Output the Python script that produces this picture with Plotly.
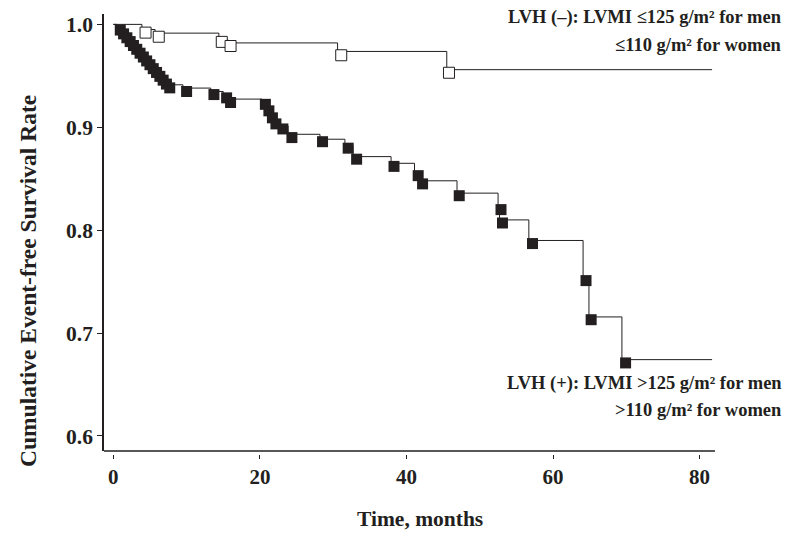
import plotly.graph_objects as go

# ---- data ----
# LVH (+) group: step line (event time, survival after event)
pos_line_t = [0, 0.5, 0.95, 1.4, 1.85, 2.3, 2.75, 3.2, 3.65, 4.1, 4.55, 5.0, 5.45, 5.9, 6.35, 6.8, 7.25,
              9.5, 13.3, 15.0, 15.5, 20.3, 20.8, 21.25, 21.75, 22.7, 23.85,
              28.2, 31.6, 32.7, 37.9, 41.1, 41.8, 46.9, 52.5, 52.7, 56.7, 64.1, 64.9, 69.4, 81.7]
pos_line_s = [1.0, 0.9975, 0.9938, 0.9900, 0.9863, 0.9825, 0.9788, 0.9750, 0.9713, 0.9675, 0.9638, 0.9600,
              0.9563, 0.9525, 0.9488, 0.9450, 0.9413,
              0.9381, 0.9348, 0.9316, 0.9274, 0.9253, 0.9190, 0.9120, 0.9060, 0.9013, 0.8932,
              0.8884, 0.8825, 0.8715, 0.8650, 0.8570, 0.8480, 0.8360, 0.8230, 0.8100, 0.7900,
              0.7540, 0.7157, 0.6742, 0.6742]
# LVH (+) group: square markers
pos_mark_t = [0.95, 1.4, 1.85, 2.3, 2.75, 3.2, 3.65, 4.1, 4.55, 5.0, 5.45, 5.9, 6.35, 6.8, 7.25, 7.7,
              10.0, 13.73, 15.46, 16.0, 20.75, 21.23, 21.71, 22.19, 23.14, 24.37,
              28.55, 32.05, 33.2, 38.3, 41.6, 42.2, 47.2, 52.9, 53.1, 57.2, 64.5, 65.2, 69.9]
pos_mark_s = [0.9945, 0.9908, 0.9870, 0.9833, 0.9795, 0.9758, 0.9720, 0.9683, 0.9645, 0.9608, 0.9570,
              0.9533, 0.9495, 0.9458, 0.9420, 0.9383,
              0.9348, 0.9318, 0.9286, 0.9241, 0.9223, 0.9160, 0.9092, 0.9033, 0.8984, 0.8900,
              0.8860, 0.8797, 0.8690, 0.8620, 0.8530, 0.8450, 0.8335, 0.8200, 0.8070, 0.7870,
              0.7510, 0.7130, 0.6710]

# LVH (-) group
neg_line_t = [0, 3.9, 5.7, 14.4, 15.6, 30.6, 45.5, 81.7]
neg_line_s = [1.0, 0.995, 0.9915, 0.9855, 0.982, 0.9737, 0.956, 0.956]
neg_mark_t = [4.4, 6.2, 14.8, 16.0, 31.1, 45.8]
neg_mark_s = [0.992, 0.988, 0.983, 0.979, 0.970, 0.953]

x_ticks = [0, 20, 40, 60, 80]
y_ticks = [0.6, 0.7, 0.8, 0.9, 1.0]
y_tick_text = ["0.6", "0.7", "0.8", "0.9", "1.0"]

neg_label = ["LVH (\u2013): LVMI \u2264125 g/m\u00b2 for men", "\u2264110 g/m\u00b2 for women"]
pos_label = ["LVH (+): LVMI >125 g/m\u00b2 for men", ">110 g/m\u00b2 for women"]
x_title = "Time, months"
y_title = "Cumulative Event-free Survival Rate"

# ---- figure ----
INK = "#231f20"
FONT = "Liberation Serif"
OFF = 8                      # page body margin of the html page
W, H = 791 - 2 * OFF, 541 - 2 * OFF

fig = go.Figure()
fig.add_trace(go.Scatter(x=pos_line_t, y=pos_line_s, mode="lines", line_shape="hv",
                         line=dict(color=INK, width=1), hoverinfo="skip", showlegend=False))
fig.add_trace(go.Scatter(x=pos_mark_t, y=pos_mark_s, mode="markers",
                         marker=dict(symbol="square", size=11, color=INK, line=dict(width=0)),
                         showlegend=False))
fig.add_trace(go.Scatter(x=neg_line_t, y=neg_line_s, mode="lines", line_shape="hv",
                         line=dict(color=INK, width=1), hoverinfo="skip", showlegend=False))
fig.add_trace(go.Scatter(x=neg_mark_t, y=neg_mark_s, mode="markers",
                         marker=dict(symbol="square", size=11, color="white", line=dict(width=1, color=INK)),
                         showlegend=False))

# plot area in page pixels
left, right = 104, 715
plot_top, plot_bottom = 14, 454
axis_bottom = 451
ydom0 = (plot_bottom - axis_bottom) / (plot_bottom - plot_top)

fig.update_layout(
    width=W, height=H,
    margin=dict(l=left - OFF, r=W - (right - OFF), t=plot_top - OFF, b=H - (plot_bottom - OFF), pad=0),
    paper_bgcolor="white", plot_bgcolor="white",
    font=dict(family=FONT, color=INK, size=20, weight="bold"),
    xaxis=dict(range=[-1.27, 82.1], tickvals=x_ticks, ticks="outside", ticklen=4, tickwidth=1,
               tickcolor=INK, showline=False, showgrid=False, zeroline=False,
               anchor="free", position=0,
               tickfont=dict(family=FONT, size=21, color=INK, weight="bold")),
    yaxis=dict(range=[0.5854, 1.0101], domain=[ydom0, 1], tickvals=y_ticks, ticktext=y_tick_text,
               ticks="outside", ticklen=5, tickwidth=1, tickcolor=INK,
               showline=True, linecolor=INK, linewidth=1.5, showgrid=False, zeroline=False,
               tickfont=dict(family=FONT, size=21.5, color=INK, weight="bold")),
    showlegend=False,
)

# bottom spine
fig.add_shape(type="line", xref="paper", x0=0, x1=1, yref="y domain", y0=0, y1=0,
              line=dict(color=INK, width=1.5))

pw = right - left
ph = plot_bottom - plot_top

def px(xp):
    return (xp - left) / pw

def py(yp):
    return (plot_bottom - yp) / ph

ann_font = dict(family=FONT, size=18.5, color=INK, weight="bold")
for txt, yp in zip(neg_label, [18, 45]):
    fig.add_annotation(text=txt, x=px(783), y=py(yp), xref="paper", yref="paper",
                       xanchor="right", yanchor="middle", showarrow=False, font=ann_font,
                       borderpad=0)
for txt, yp in zip(pos_label, [383, 410]):
    fig.add_annotation(text=txt, x=px(783), y=py(yp), xref="paper", yref="paper",
                       xanchor="right", yanchor="middle", showarrow=False, font=ann_font,
                       borderpad=0)

fig.add_annotation(text=x_title, x=px(420), y=py(519), xref="paper", yref="paper",
                   xanchor="center", yanchor="middle", showarrow=False, borderpad=0,
                   font=dict(family=FONT, size=21.5, color=INK, weight="bold"))
fig.add_annotation(text=y_title, x=px(28), y=py(281), xref="paper", yref="paper",
                   xanchor="center", yanchor="middle", showarrow=False, textangle=-90,
                   font=dict(family=FONT, size=23.5, color=INK, weight="bold"))

fig.write_html("out.html")
